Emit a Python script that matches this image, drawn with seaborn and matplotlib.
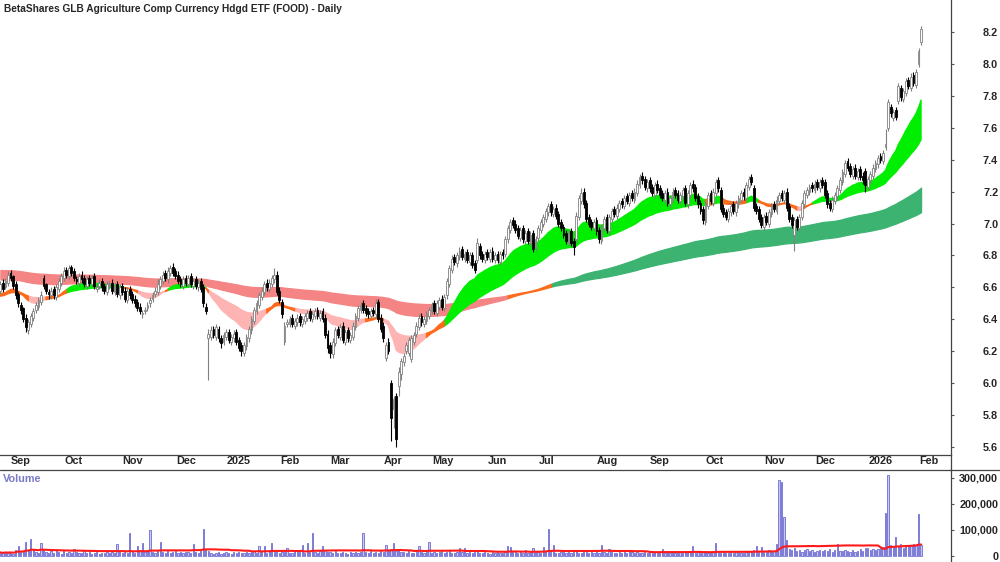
import numpy as np
import pandas as pd
import matplotlib
matplotlib.use("Agg")
import matplotlib.pyplot as plt
import matplotlib.transforms as mtransforms
from matplotlib.lines import Line2D
from matplotlib import font_manager as fm
import seaborn as sns

sns.set_style("white")
plt.rcParams["font.family"] = ["Liberation Sans", "DejaVu Sans"]

# ---------------- data ----------------
title = "BetaShares GLB Agriculture Comp Currency Hdgd ETF (FOOD) - Daily"
start_date, end_date = "2024-08-28", "2026-02-04"
holidays = ["2024-12-25", "2024-12-26", "2025-01-01", "2025-01-27", "2025-04-18",
            "2025-04-21", "2025-04-25", "2025-06-09", "2025-12-25", "2025-12-26",
            "2026-01-01", "2026-01-26"]

# prices in cents, one trading day per value
opens = [658, 663, 660,
    663, 669, 667, 662, 656, 649, 647, 641, 633, 637,
    641, 646, 648, 651, 666, 662, 657, 655, 659, 654,
    659, 663, 666, 671, 667, 673, 670, 665, 663, 668,
    666, 661, 666, 662, 667, 659, 661, 664, 661, 657,
    661, 663, 657, 662, 655, 661, 658, 652, 659, 656,
    653, 651, 648, 643, 645, 647, 650, 653, 656, 657,
    661, 664, 669, 665, 669, 673, 670, 668, 665, 661,
    666, 662, 667, 661, 665, 660, 664, 660, 648, 628,
    629, 634, 629, 634, 628, 626, 629, 632, 626, 628,
    632, 627, 624, 619, 623, 628, 633, 639, 645, 649,
    654, 657, 663, 659, 662, 665, 668, 658, 651, 626,
    637, 637, 641, 636, 638, 642, 637, 639, 641, 645,
    640, 642, 646, 641, 645, 641, 631, 624, 618, 625,
    634, 629, 636, 626, 633, 627, 629, 635, 641, 646,
    650, 647, 645, 642, 646, 643, 651, 641, 636, 616,
    626, 600, 584, 592, 598, 606, 613, 620, 619, 615,
    626, 631, 635, 642, 637, 639, 642, 645, 650, 644,
    648, 653, 647, 655, 662, 671, 679, 675, 679, 684,
    678, 682, 676, 680, 675, 677, 686, 681, 677, 682,
    678, 683, 677, 681, 676, 682, 681, 690, 696, 702,
    700, 697, 691, 697, 689, 695, 688, 694, 685, 691,
    696, 700, 703, 707, 712, 706, 710, 706, 701, 698,
    694, 688, 695, 689, 690, 704, 714, 720, 713, 704,
    701, 697, 702, 696, 689, 697, 704, 695, 703, 709,
    705, 709, 714, 711, 717, 713, 719, 715, 719, 724,
    730, 728, 722, 727, 723, 718, 725, 722, 719, 715,
    720, 712, 715, 721, 719, 714, 717, 722, 712, 718,
    725, 723, 717, 713, 709, 701, 711, 719, 713, 719,
    727, 721, 710, 707, 703, 707, 712, 707, 712, 715,
    720, 716, 723, 729, 722, 711, 709, 704, 698, 705,
    700, 706, 712, 708, 714, 719, 715, 720, 711, 704,
    693, 703, 697, 704, 712, 718, 720, 724, 721, 726,
    722, 727, 726, 719, 713, 709, 714, 717, 721, 726,
    731, 739, 736, 730, 735, 729, 734, 730, 733, 723,
    727, 730, 734, 737, 742, 739, 748, 760, 773, 766,
    771, 777, 785, 778, 782, 790, 785, 793, 787, 800, 814]

highs = [664, 665, 666,
    670, 671, 668, 664, 657, 651, 648, 643, 640, 644,
    647, 651, 654, 658, 668, 663, 659, 660, 661, 662,
    666, 669, 673, 673, 674, 674, 672, 667, 669, 670,
    668, 667, 668, 668, 669, 662, 665, 666, 663, 664,
    664, 665, 663, 664, 662, 663, 660, 660, 661, 658,
    655, 653, 650, 646, 648, 651, 654, 657, 660, 665,
    667, 670, 671, 673, 674, 675, 672, 670, 667, 667,
    668, 668, 669, 666, 667, 665, 666, 662, 650, 634,
    636, 636, 637, 636, 630, 632, 634, 634, 631, 633,
    634, 629, 626, 626, 631, 636, 642, 648, 652, 657,
    660, 664, 665, 665, 668, 672, 670, 660, 653, 638,
    640, 642, 643, 641, 643, 644, 642, 644, 646, 647,
    645, 647, 648, 646, 647, 643, 633, 626, 628, 635,
    636, 637, 638, 634, 635, 632, 638, 644, 649, 651,
    652, 649, 647, 647, 648, 653, 653, 643, 638, 626,
    628, 602, 592, 594, 610, 616, 619, 626, 629, 630,
    632, 638, 643, 644, 642, 645, 648, 651, 652, 652,
    654, 655, 656, 666, 674, 680, 681, 682, 685, 686,
    683, 684, 682, 682, 677, 691, 688, 683, 683, 684,
    684, 685, 682, 683, 683, 684, 692, 699, 703, 704,
    702, 699, 698, 699, 696, 697, 695, 696, 692, 699,
    703, 706, 710, 713, 714, 711, 712, 708, 703, 700,
    696, 696, 697, 691, 707, 718, 722, 722, 715, 706,
    703, 703, 704, 698, 700, 705, 706, 706, 710, 711,
    712, 715, 716, 718, 719, 720, 721, 722, 727, 731,
    732, 730, 728, 729, 725, 726, 727, 724, 721, 721,
    722, 718, 722, 723, 721, 720, 723, 724, 721, 726,
    727, 725, 719, 715, 711, 714, 720, 721, 722, 728,
    729, 723, 712, 709, 710, 713, 714, 715, 718, 721,
    722, 726, 730, 731, 724, 713, 711, 706, 706, 707,
    709, 713, 714, 717, 720, 721, 721, 722, 713, 706,
    704, 705, 706, 715, 721, 723, 725, 726, 727, 728,
    728, 729, 728, 721, 715, 717, 720, 724, 729, 734,
    740, 741, 738, 736, 737, 735, 736, 732, 735, 730,
    733, 737, 740, 743, 744, 746, 759, 778, 775, 772,
    773, 788, 787, 785, 791, 792, 794, 795, 797, 810, 824]

lows = [656, 657, 659,
    661, 664, 659, 653, 648, 643, 638, 632, 631, 635,
    639, 644, 646, 649, 659, 656, 653, 653, 653, 652,
    657, 661, 664, 666, 665, 667, 664, 662, 661, 663,
    660, 659, 661, 660, 659, 657, 659, 658, 656, 655,
    659, 656, 655, 654, 653, 655, 651, 650, 653, 650,
    648, 645, 643, 641, 643, 645, 648, 651, 654, 655,
    659, 662, 664, 663, 667, 667, 665, 662, 660, 659,
    661, 660, 660, 659, 659, 658, 657, 648, 643, 602,
    627, 628, 627, 626, 622, 624, 627, 625, 624, 626,
    624, 620, 617, 617, 621, 626, 631, 637, 643, 647,
    652, 655, 658, 657, 660, 663, 655, 650, 641, 624,
    635, 635, 635, 634, 636, 636, 635, 637, 639, 639,
    638, 640, 640, 639, 638, 628, 619, 616, 616, 623,
    628, 627, 625, 624, 626, 625, 627, 633, 639, 644,
    644, 642, 641, 640, 642, 641, 638, 632, 626, 614,
    618, 564, 572, 560, 592, 602, 611, 618, 617, 613,
    624, 629, 633, 636, 635, 637, 640, 643, 643, 642,
    646, 646, 645, 653, 660, 669, 674, 673, 677, 677,
    676, 675, 674, 672, 669, 675, 678, 676, 675, 677,
    676, 676, 675, 675, 674, 678, 679, 688, 694, 697,
    694, 690, 689, 688, 687, 687, 686, 682, 683, 689,
    694, 698, 701, 705, 705, 704, 703, 698, 695, 691,
    687, 686, 686, 680, 688, 702, 712, 710, 701, 698,
    696, 695, 693, 688, 687, 695, 694, 693, 701, 704,
    703, 707, 710, 709, 712, 711, 714, 713, 717, 722,
    725, 721, 720, 720, 717, 716, 719, 716, 714, 713,
    711, 710, 713, 716, 713, 712, 715, 711, 710, 716,
    720, 714, 710, 706, 700, 699, 709, 712, 711, 717,
    720, 707, 704, 702, 701, 705, 706, 705, 710, 713,
    715, 714, 721, 724, 708, 706, 701, 697, 696, 699,
    698, 704, 707, 706, 712, 714, 713, 708, 701, 697,
    683, 696, 695, 702, 710, 716, 718, 720, 719, 721,
    720, 722, 716, 710, 708, 707, 712, 715, 719, 724,
    729, 733, 729, 728, 728, 727, 727, 725, 720, 721,
    725, 728, 732, 735, 738, 737, 746, 758, 767, 764,
    765, 775, 777, 776, 780, 784, 783, 786, 785, 798, 812]

closes = [662, 659, 664,
    668, 666, 661, 655, 650, 646, 640, 635, 638, 642,
    645, 649, 652, 655, 661, 658, 656, 658, 655, 660,
    664, 667, 670, 668, 672, 669, 666, 664, 667, 665,
    662, 665, 663, 666, 661, 660, 663, 660, 658, 662,
    662, 658, 661, 656, 660, 657, 653, 658, 655, 652,
    650, 647, 645, 644, 646, 649, 652, 655, 658, 662,
    665, 668, 666, 670, 672, 669, 667, 664, 662, 665,
    663, 666, 662, 664, 661, 663, 659, 650, 645, 631,
    633, 630, 635, 628, 625, 630, 632, 627, 629, 631,
    626, 622, 620, 624, 629, 634, 640, 646, 650, 655,
    658, 662, 660, 663, 666, 668, 657, 652, 643, 636,
    638, 640, 637, 639, 641, 638, 640, 642, 644, 641,
    643, 645, 642, 644, 640, 630, 622, 619, 626, 633,
    630, 635, 627, 632, 628, 630, 636, 642, 647, 649,
    646, 644, 643, 645, 644, 650, 640, 634, 628, 624,
    620, 578, 590, 565, 607, 614, 617, 624, 627, 628,
    630, 636, 641, 638, 640, 643, 646, 649, 645, 650,
    652, 648, 654, 664, 672, 678, 676, 680, 683, 679,
    681, 677, 680, 674, 671, 688, 680, 678, 681, 679,
    682, 678, 680, 677, 681, 680, 690, 697, 701, 699,
    696, 692, 696, 690, 694, 689, 693, 684, 690, 697,
    701, 704, 708, 711, 707, 709, 705, 700, 697, 693,
    689, 694, 688, 685, 705, 716, 719, 712, 703, 700,
    698, 701, 695, 690, 698, 703, 696, 704, 708, 706,
    710, 713, 712, 716, 714, 718, 716, 720, 725, 729,
    727, 723, 726, 722, 719, 724, 721, 718, 716, 719,
    713, 716, 720, 718, 715, 718, 721, 713, 719, 724,
    722, 716, 712, 708, 702, 712, 718, 714, 720, 726,
    722, 709, 706, 704, 708, 711, 708, 713, 716, 719,
    717, 724, 728, 726, 710, 708, 703, 699, 704, 701,
    707, 711, 709, 715, 718, 716, 719, 710, 703, 699,
    702, 698, 704, 713, 719, 721, 723, 722, 725, 723,
    726, 724, 718, 712, 710, 715, 718, 722, 727, 732,
    738, 735, 731, 734, 730, 733, 729, 727, 724, 728,
    731, 735, 738, 741, 740, 744, 750, 776, 769, 770,
    767, 786, 779, 783, 789, 786, 792, 788, 795, 808, 822]

# volume in thousands of units
volumes_k = [12, 8, 15,
    10, 14, 6, 22, 38, 12, 18, 54, 16, 65,
    20, 12, 9, 50, 25, 14, 8, 16, 11, 22,
    13, 7, 18, 10, 12, 9, 27, 14, 8, 11,
    16, 9, 12, 7, 10, 14, 6, 11, 9, 13,
    8, 12, 10, 46, 15, 9, 18, 11, 85, 14,
    10, 38, 16, 50, 12, 20, 100, 15, 9, 18,
    54, 13, 10, 16, 8, 12, 19, 11, 14, 9,
    12, 15, 10, 46, 13, 9, 17, 104, 22, 18,
    11, 6, 9, 14, 5, 8, 12, 10, 7, 13,
    9, 15, 11, 8, 14, 10, 12, 16, 9, 38,
    14, 38, 11, 20, 50, 13, 18, 10, 15, 12,
    30, 11, 9, 16, 12, 14, 42, 10, 50, 13,
    85, 15, 11, 18, 38, 20, 14, 12, 9, 16,
    11, 8, 13, 10, 7, 12, 9, 15, 11, 14,
    88, 12, 10, 16, 9, 13, 11, 18, 14, 42,
    20, 25, 50, 18, 22, 15, 12, 10, 16, 11,
    9, 14, 38, 12, 10, 15, 54, 11, 13, 8,
    12, 16, 10, 14, 18, 11, 9, 13, 30, 12,
    30, 10, 14, 8, 12, 16, 11, 9, 13, 10,
    7, 12, 9, 15, 11, 8, 14, 38, 34, 12,
    16, 10, 13, 9, 20, 11, 14, 30, 12, 15,
    10, 34, 18, 104, 13, 42, 11, 9, 14, 12,
    8, 15, 10, 13, 17, 11, 9, 14, 12, 10,
    13, 9, 16, 11, 42, 14, 10, 27, 12, 8,
    11, 15, 9, 13, 10, 16, 12, 8, 14, 11,
    9, 13, 10, 15, 8, 12, 11, 14, 27, 10,
    12, 8, 15, 11, 9, 14, 10, 13, 16, 12,
    38, 11, 14, 9, 12, 16, 10, 13, 18, 50,
    12, 9, 14, 11, 8, 13, 10, 15, 12, 9,
    11, 14, 16, 12, 20, 38, 15, 34, 13, 18,
    22, 16, 19, 46, 292, 285, 150, 58, 25, 20,
    28, 18, 22, 15, 20, 25, 17, 21, 14, 19,
    23, 16, 20, 18, 24, 15, 21, 46, 19, 17,
    22, 18, 15, 20, 13, 17, 24, 19, 30, 28,
    22, 26, 20, 25, 30, 34, 165, 312, 40, 35,
    73, 38, 46, 30, 42, 38, 35, 44, 40, 162, 42]

# moving-average ribbons (EMA periods) and their levels at the left edge
short_periods = [20, 25, 30, 35, 40, 50]
short_start = [6.55, 6.55, 6.54, 6.54, 6.55, 6.56]
long_periods = [150, 165, 180, 200, 220, 250]
long_start = [6.65, 6.66, 6.675, 6.69, 6.70, 6.71]
vol_ma_window = 40

price_ticks = [5.6, 5.8, 6.0, 6.2, 6.4, 6.6, 6.8, 7.0, 7.2, 7.4, 7.6, 7.8, 8.0, 8.2]
vol_ticks = [0, 100000, 200000, 300000]

# ---------------- styling ----------------
C_SHORT = {"up": "#00ee00", "down": "#ffb4b4", "mix": "#ff6a1a"}
C_LONG = {"up": "#3cb371", "down": "#f58484", "mix": "#ff6a1a"}
W, H = 1000, 562

# narrow bold face if available (reference uses a narrow sans), else regular bold, smaller
narrow = None
for f in fm.fontManager.ttflist:
    if f.name == "Liberation Sans Narrow" and str(f.weight) in ("bold", "700"):
        narrow = f.fname
        break
if narrow:
    FP_T = dict(fontproperties=fm.FontProperties(fname=narrow, size=8.4))
    FP = dict(fontproperties=fm.FontProperties(fname=narrow, size=8.4))
else:
    FP_T = dict(family=["Liberation Sans", "DejaVu Sans"], fontweight="bold", fontsize=7.3)
    FP = dict(family=["Liberation Sans", "DejaVu Sans"], fontweight="bold", fontsize=7.8)

dates = pd.bdate_range(start_date, end_date, freq="C", holidays=holidays)
n = min(len(dates), len(closes), len(opens), len(highs), len(lows), len(volumes_k))
dates = dates[:n]
o = np.array(opens[:n]) / 100.0
c = np.array(closes[:n]) / 100.0
hi = np.maximum(np.array(highs[:n]) / 100.0, np.maximum(o, c))
lo = np.minimum(np.array(lows[:n]) / 100.0, np.minimum(o, c))
vol = np.array(volumes_k[:n]) * 1000.0
pos = np.arange(n)

# pixel geometry -> data limits
px_per_day = 908 / 358.0
x_sep = 3  # index of 2 Sep 2024, drawn at pixel 8
xl = (x_sep - 8 / px_per_day, x_sep + (951 - 8) / px_per_day)
p_per_px = 0.2 / 31.92
ylim_p = (8.2 - (455 - 32) * p_per_px, 8.2 + 32 * p_per_px)
v_per_px = 100000 / 25.9
v0 = 555.5
ylim_v = (-(562 - v0) * v_per_px, (v0 - 469) * v_per_px)

fig = plt.figure(figsize=(W / 100, H / 100), dpi=100)
ax = fig.add_axes([0, 1 - 455 / H, 951 / W, 455 / H])
axv = fig.add_axes([0, 0, 951 / W, (H - 469) / H])

# ---- ribbons ----
def ema_group(periods, starts):
    out = []
    for p, s in zip(periods, starts):
        ser = pd.Series(np.concatenate([[s], c])).ewm(span=p, adjust=False).mean().iloc[1:]
        out.append(ser.values)
    return np.array(out)

def draw_ribbon(E, colors, z):
    top = E.max(axis=0)
    bot = E.min(axis=0)
    d = np.diff(E, axis=0)
    state = np.where(np.all(d < 0, axis=0), "up", np.where(np.all(d > 0, axis=0), "down", "mix"))
    for key, col in colors.items():
        m = state == key
        mext = m.copy()
        mext[1:] |= m[:-1]
        ax.fill_between(pos, bot, top, where=mext, color=col, edgecolor=col,
                        linewidth=0.9, zorder=z, interpolate=False)

draw_ribbon(ema_group(long_periods, long_start), C_LONG, 1)
draw_ribbon(ema_group(short_periods, short_start), C_SHORT, 2)

# ---- candles ----
up = c >= o
body_h = np.maximum(np.abs(c - o), 0.004)
body_b = np.minimum(o, c)
ax.vlines(pos[up], lo[up], hi[up], color="#808080", linewidth=0.8, zorder=3)
ax.vlines(pos[~up], lo[~up], hi[~up], color="#000000", linewidth=0.8, zorder=3)
ax.bar(pos[up], body_h[up], bottom=body_b[up], width=0.72, facecolor="white",
       edgecolor="#808080", linewidth=0.6, zorder=4)
ax.bar(pos[~up], body_h[~up], bottom=body_b[~up], width=0.72, facecolor="black",
       edgecolor="black", linewidth=0.6, zorder=4)

# ---- volume ----
vdf = pd.DataFrame({"pos": pos, "vol": vol})
vdf["ma"] = vdf["vol"].rolling(vol_ma_window, min_periods=1).mean()
sns.barplot(data=vdf, x="pos", y="vol", ax=axv, native_scale=True, errorbar=None,
            width=0.5, color="#c8c8f2", saturation=1, edgecolor="#7c7cd6", linewidth=0.7)
sns.lineplot(data=vdf, x="pos", y="ma", ax=axv, color="#ff1a1a", linewidth=1.5)

# ---- axes formatting ----
for a in (ax, axv):
    a.set_xlim(*xl)
    a.set_xlabel("")
    a.set_ylabel("")
    a.yaxis.tick_right()
    a.grid(False)

ax.set_ylim(*ylim_p)
axv.set_ylim(*ylim_v)

months = dates.to_period("M")
first = [i for i in range(1, n) if months[i] != months[i - 1]]
labels = [dates[i].strftime("%Y") if dates[i].month == 1 else dates[i].strftime("%b") for i in first]
ax.set_xticks(first)
ax.set_xticklabels(labels, **FP)
ax.tick_params(axis="x", direction="out", length=9.5, width=0.8, color="#555555", pad=-8.6)
offset = mtransforms.ScaledTranslation(3 / 100, 0, fig.dpi_scale_trans)
for lab in ax.get_xticklabels():
    lab.set_horizontalalignment("left")
    lab.set_transform(lab.get_transform() + offset)
axv.set_xticks([])

ax.set_yticks(price_ticks)
ax.set_yticklabels([f"{t:.1f}" for t in price_ticks], **FP)
axv.set_yticks(vol_ticks)
axv.set_yticklabels([f"{t:,}" for t in vol_ticks], **FP)
for a in (ax, axv):
    a.tick_params(axis="y", direction="out", length=2.5, width=0.8, color="#555555", pad=31.5)
    for lab in a.get_yticklabels():
        lab.set_horizontalalignment("right")

for a in (ax, axv):
    for s in a.spines.values():
        s.set_visible(False)
for s in (ax.spines["bottom"], ax.spines["right"], axv.spines["right"]):
    s.set_visible(True)
    s.set_color("#444444")
    s.set_linewidth(0.9)

fig.add_artist(Line2D([951 / W, 951 / W], [1 - 469 / H, 1 - 455 / H], color="#444444", lw=0.9))
fig.add_artist(Line2D([0, 1], [1 - 469.5 / H, 1 - 469.5 / H], color="#444444", lw=0.9))

fig.text(4 / W, 1 - 9.5 / H, title, va="center", ha="left", **FP_T)
fig.text(3 / W, 1 - 478.5 / H, "Volume", va="center", ha="left", color="#7a7ac8", **FP)

fig.savefig("out.png", dpi=100, facecolor="white")
